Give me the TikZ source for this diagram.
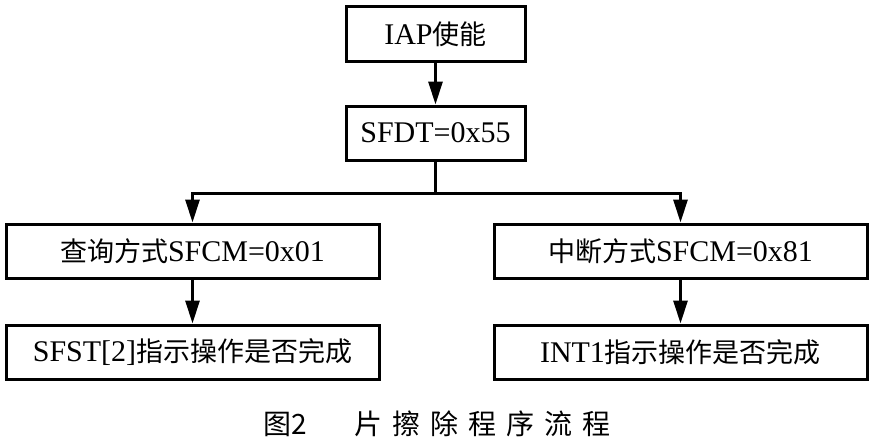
\documentclass[tikz,border=0pt]{standalone}
\usepackage{fontspec}
\setmainfont{Liberation Serif}
\newfontfamily\cjk{Noto Sans CJK SC}[Scale=0.9]
\newfontfamily\capfont{Noto Sans CJK SC}
\newfontfamily\capfontls{Noto Sans CJK SC}[LetterSpace=36]
\usetikzlibrary{arrows.meta}
\begin{document}
\begin{tikzpicture}[x=1pt,y={(0pt,-1pt)},
  box/.style={draw,line width=3pt,fill=white,inner sep=0pt,
    font=\fontsize{30}{36}\selectfont},
  arr/.style={line width=3pt,-{Triangle[length=23pt,width=14pt]}},
  conn/.style={line width=3pt}]
\useasboundingbox (0,0) rectangle (873,447);
\node[box,minimum width=179pt,minimum height=55pt] (iap) at (435.5,34) {IAP{\cjk 使能}};
\node[box,minimum width=179pt,minimum height=54pt] (sfdt) at (435.5,133) {SFDT=0x55};
\node[box,minimum width=373pt,minimum height=54pt] (l1) at (192.5,251) {{\cjk 查询方式}SFCM=0x01};
\node[box,minimum width=373pt,minimum height=54pt] (l2) at (192.5,352) {SFST[2]{\cjk 指示操作是否完成}};
\node[box,minimum width=373pt,minimum height=54pt] (r1) at (680.5,251) {{\cjk 中断方式}SFCM=0x81};
\node[box,minimum width=373pt,minimum height=54pt] (r2) at (680.5,352) {INT1{\cjk 指示操作是否完成}};
\coordinate (j) at (435.5,193);
\draw[arr] (iap.south) -- (sfdt.north);
\draw[conn] (sfdt.south) -- (j);
\draw[arr] (j) -| (l1.north);
\draw[arr] (j) -| (r1.north);
\draw[arr] (l1.south) -- (l2.north);
\draw[arr] (r1.south) -- (r2.north);
\node[anchor=west,inner sep=0pt,font=\capfont\fontsize{28}{32}\selectfont] (cap1) at (263,424) {图2};
\node[anchor=west,inner sep=0pt,font=\capfontls\fontsize{28}{32}\selectfont] (cap2) at (354,424) {片擦除程序流程};
\end{tikzpicture}
\end{document}
